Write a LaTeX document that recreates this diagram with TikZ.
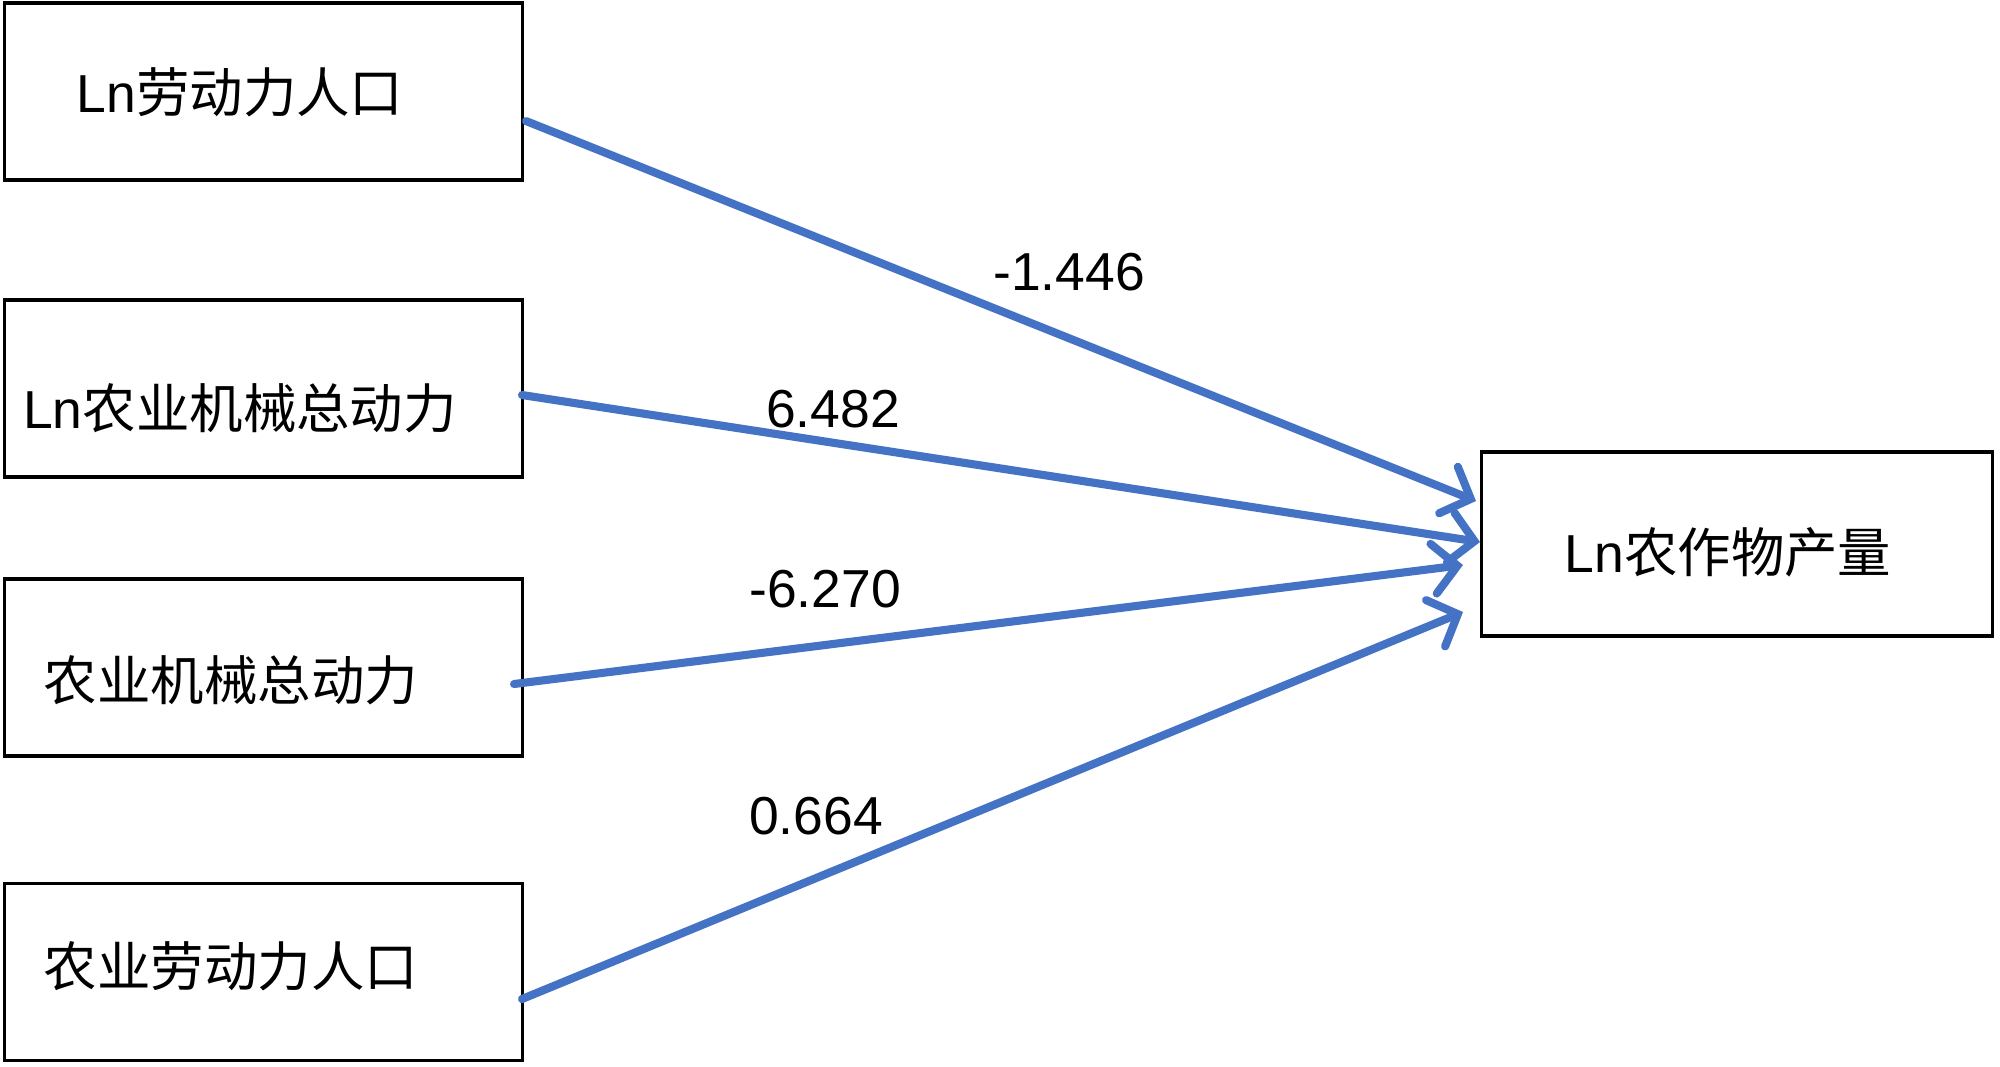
\documentclass[tikz,border=0pt]{standalone}
\usepackage{fontspec}
\setmainfont{Liberation Sans}
\newfontfamily\cjk{Noto Sans CJK SC}
\usetikzlibrary{arrows.meta}
\definecolor{lineblue}{HTML}{4472C4}
\begin{document}
\begin{tikzpicture}[x=0.01cm,y=-0.01cm,
  box/.style={draw=black, line width=0.9pt, minimum width=5.17cm, minimum height=1.77cm, inner sep=0pt},
  rbox/.style={draw=black, line width=0.9pt, minimum width=5.1cm, minimum height=1.84cm, inner sep=0pt},
  txt/.style={font=\fontsize{15.2}{18}\selectfont, inner sep=0pt},
  conn/.style={draw=lineblue, line width=2.3pt, line cap=round, -{Straight Barb[length=0.24cm,width=0.5cm,line cap=round]}}]
\useasboundingbox (0,0) rectangle (2000,1066);
\fill[white] (0,0) rectangle (2000,1066);
% boxes
\node[box] (b1) at (263.5,91.5) {};
\node[box] (b2) at (263.5,388.5) {};
\node[box] (b3) at (263.5,667.5) {};
\node[box] (b4) at (263.5,972) {};
\node[rbox] (r) at (1737,544) {};
% box texts
\node[txt] (t1) at (240,92) {Ln{\cjk 劳动力人口}};
\node[txt] (t2) at (240,408) {Ln{\cjk 农业机械总动力}};
\node[txt] (t3) at (231,680) {{\cjk 农业机械总动力}};
\node[txt] (t4) at (231,966) {{\cjk 农业劳动力人口}};
\node[txt] (tr) at (1728,552) {Ln{\cjk 农作物产量}};
% connector ends
\coordinate (s1) at (526,121);
\coordinate (e1) at (1476,501);
\coordinate (s2) at (522,395);
\coordinate (e2) at (1480,542);
\coordinate (s3) at (514,684);
\coordinate (e3) at (1463,565);
\coordinate (s4) at (522,999);
\coordinate (e4) at (1463,612);
\draw[conn] (s1) -- (e1);
\draw[conn] (s2) -- (e2);
\draw[conn] (s3) -- (e3);
\draw[conn] (s4) -- (e4);
% labels
\node[txt] (l1) at (1069,272) {-1.446};
\node[txt] (l2) at (833,409) {6.482};
\node[txt] (l3) at (825,589) {-6.270};
\node[txt] (l4) at (816,816) {0.664};
\end{tikzpicture}
\end{document}
